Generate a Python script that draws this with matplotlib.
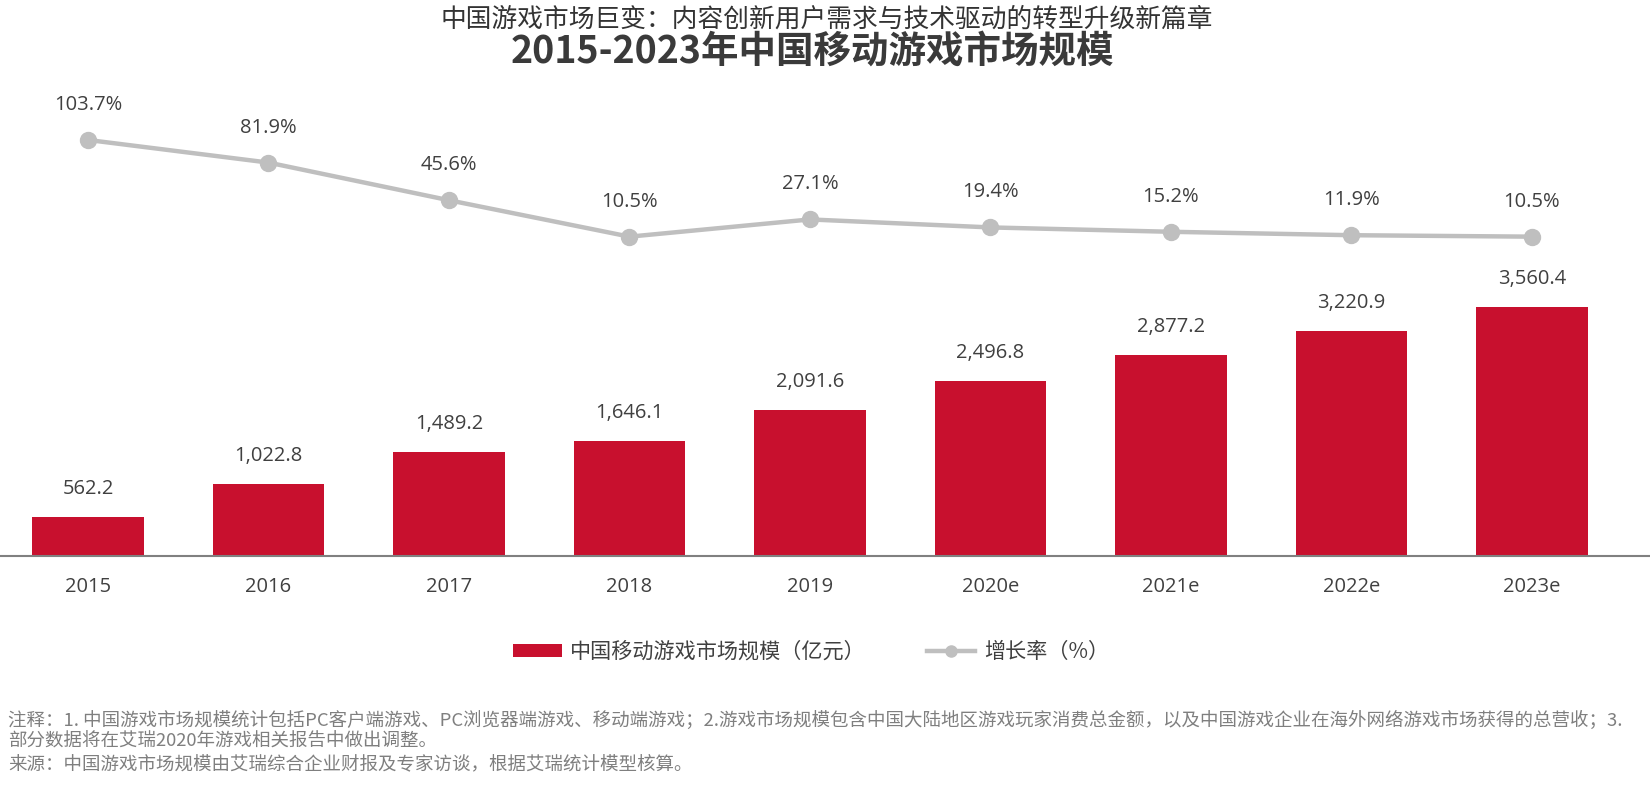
import matplotlib
matplotlib.use("Agg")
import matplotlib.pyplot as plt
from matplotlib.lines import Line2D
from matplotlib.patches import Patch

plt.rcParams['font.family'] = ['Noto Sans CJK SC', 'DejaVu Sans']

years = ["2015", "2016", "2017", "2018", "2019", "2020e", "2021e", "2022e", "2023e"]
market_size = [562.2, 1022.8, 1489.2, 1646.1, 2091.6, 2496.8, 2877.2, 3220.9, 3560.4]
growth = [103.7, 81.9, 45.6, 10.5, 27.1, 19.4, 15.2, 11.9, 10.5]

suptitle = "中国游戏市场巨变：内容创新用户需求与技术驱动的转型升级新篇章"
title = "2015-2023年中国移动游戏市场规模"
bar_label = "中国移动游戏市场规模（亿元）"
line_label = "增长率（%）"
notes = [
    "注释：1. 中国游戏市场规模统计包括PC客户端游戏、PC浏览器端游戏、移动端游戏；2.游戏市场规模包含中国大陆地区游戏玩家消费总金额，以及中国游戏企业在海外网络游戏市场获得的总营收；3.",
    "部分数据将在艾瑞2020年游戏相关报告中做出调整。",
    "来源：中国游戏市场规模由艾瑞综合企业财报及专家访谈，根据艾瑞统计模型核算。",
]

red = "#C8102E"
grey = "#BFBFBF"
txt = "#404040"

W, H = 1650, 795
fig = plt.figure(figsize=(W / 100, H / 100), dpi=100)
fig.patch.set_facecolor("white")

base_y = 556
top_y = 80
ax = fig.add_axes([0, 1 - base_y / H, 1, (base_y - top_y) / H])
x = list(range(len(years)))
ax.bar(x, market_size, width=0.62, color=red, zorder=2)
ax.set_xlim(-0.4875, 8.654)
ax.set_ylim(0, 6806)
for xi, v in zip(x, market_size):
    ax.annotate(f"{v:,.1f}", (xi, v), xytext=(0, 28), textcoords="offset pixels",
                ha="center", va="center", fontsize=14.5, color=txt, family=["Open Sans", "DejaVu Sans"])
ax.set_xticks(x)
ax.set_xticklabels(years, fontsize=14.5, color=txt, family=["Open Sans", "DejaVu Sans"])
ax.tick_params(axis="x", length=0, pad=15)
ax.set_yticks([])
for s in ["top", "left", "right"]:
    ax.spines[s].set_visible(False)
ax.spines["bottom"].set_color("#808080")
ax.spines["bottom"].set_linewidth(1.5)
ax.patch.set_alpha(0)

ax2 = ax.twinx()
ax2.plot(x, growth, color=grey, lw=3.2, marker="o", markersize=11.5, zorder=3)
ax2.set_ylim(-297.3, 161.5)
ax2.set_yticks([])
for s in ax2.spines.values():
    s.set_visible(False)
for xi, g in zip(x, growth):
    ax2.annotate(f"{g}%", (xi, g), xytext=(0, 35), textcoords="offset pixels",
                 ha="center", va="center", fontsize=14.5, color=txt, family=["Open Sans", "DejaVu Sans"])

fig.text(827 / W, 1 - 20 / H, suptitle, ha="center", va="center", fontsize=18.5, color="#333333")
fig.text(812 / W, 1 - 51 / H, title, ha="center", va="center", fontsize=27, fontweight="bold", color="#3a3a3a")

handles = [Patch(facecolor=red, edgecolor="none"),
           Line2D([0], [0], color=grey, lw=3.2, marker="o", markersize=8)]
fig.legend(handles, [bar_label, line_label], loc="center", bbox_to_anchor=(811 / W, 1 - 652 / H),
           ncol=2, frameon=False, labelcolor=txt, handlelength=2.3, handleheight=0.6,
           columnspacing=2.9, handletextpad=0.4, prop={"size": 15.2})

for i, line in enumerate(notes):
    fig.text(8 / W, 1 - (720 + 22 * i) / H, line, ha="left", va="center", fontsize=13.3,
             color="#7F7F7F", style="italic")

fig.savefig("out.png", dpi=100)
